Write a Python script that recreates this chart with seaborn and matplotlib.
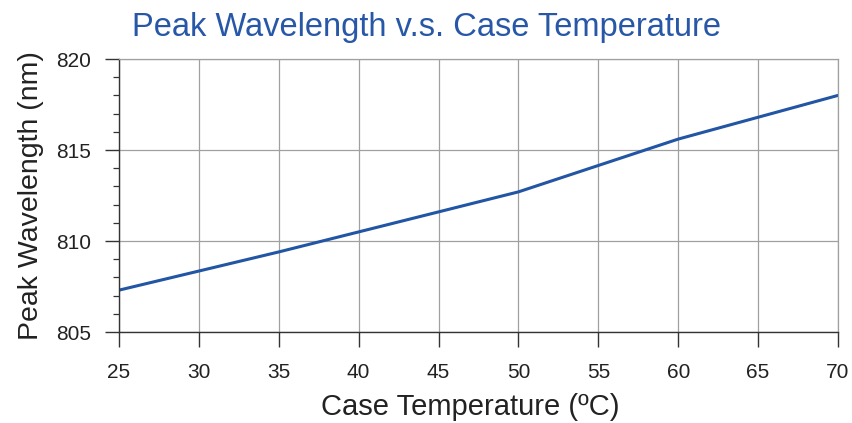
import numpy as np
import pandas as pd
import seaborn as sns
import matplotlib.pyplot as plt
from matplotlib.ticker import MultipleLocator

# values
case_temp = [25, 30, 35, 40, 45, 50, 55, 60, 65, 70]
peak_wl = [807.3, 808.35, 809.4, 810.5, 811.6, 812.7, 814.15, 815.6, 816.8, 818.0]

df = pd.DataFrame({"temp": case_temp, "wl": peak_wl})

sns.set_style("white")
plt.rcParams['font.family'] = ['Liberation Sans', 'DejaVu Sans']

fig = plt.figure(figsize=(8.53, 4.23), dpi=100)
ax = fig.add_axes([0.1395, 0.2151, 0.8429, 0.6454])

sns.lineplot(data=df, x="temp", y="wl", color="#2255a4", linewidth=2.2, ax=ax)

ax.set_xlim(25, 70)
ax.set_ylim(805, 820)
ax.xaxis.set_major_locator(MultipleLocator(5))
ax.yaxis.set_major_locator(MultipleLocator(5))
ax.yaxis.set_minor_locator(MultipleLocator(1))

ax.grid(True, which="major", color="#a0a0a0", linewidth=0.9)
ax.set_axisbelow(True)

for side in ["top", "right"]:
    ax.spines[side].set_color("#a0a0a0")
    ax.spines[side].set_linewidth(0.9)
for side in ["left", "bottom"]:
    ax.spines[side].set_color("#333333")
    ax.spines[side].set_linewidth(1.0)

ax.tick_params(axis="both", which="major", direction="out", length=10, width=1.0,
               color="#333333", labelsize=15, labelcolor="#222222", pad=10,
               left=True, bottom=True)
ax.tick_params(axis="x", which="major", length=11, pad=11)
ax.tick_params(axis="y", which="minor", direction="out", length=4.5, width=0.9,
               color="#333333", left=True)

ax.set_xlabel("Case Temperature (ºC)", fontsize=21, color="#222222", labelpad=9)
ax.xaxis.set_label_coords(0.489, -0.225)
ax.set_ylabel("Peak Wavelength (nm)", fontsize=20.5, color="#222222", labelpad=9)
fig.suptitle("Peak Wavelength v.s. Case Temperature", fontsize=23.5, color="#2757a6",
             x=0.5, y=0.972)

fig.savefig("out.png", dpi=100)
